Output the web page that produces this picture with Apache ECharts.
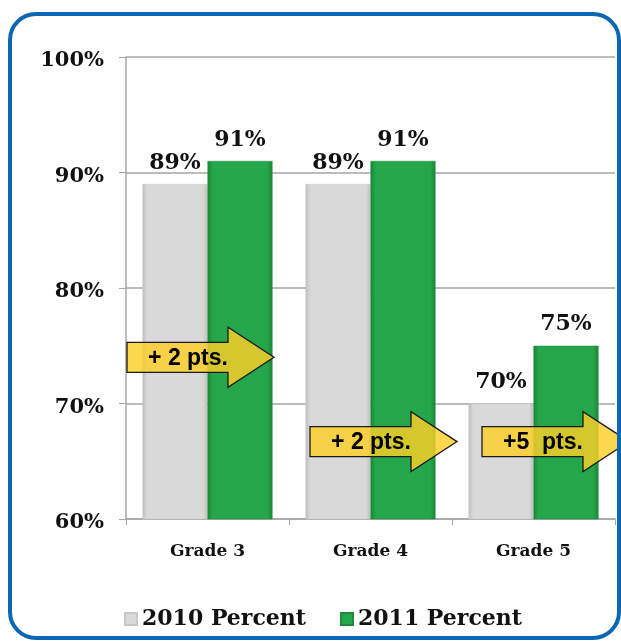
<!DOCTYPE html>
<html>
<head>
<meta charset="utf-8">
<script src="https://cdn.jsdelivr.net/npm/echarts@6/dist/echarts.min.js"></script>
<style>
  html, body { margin: 0; padding: 0; background: #ffffff; }
  #chart { width: 621px; height: 642px; }
</style>
</head>
<body>
<div id="chart"></div>
<script>
// ---- data ----
const categories = ['Grade 3', 'Grade 4', 'Grade 5'];
const seriesNames = ['2010 Percent', '2011 Percent'];
const values2010 = [89, 89, 70];
const values2011 = [91, 91, 75];
const yTicks = [60, 70, 80, 90, 100];
const arrowLabels = ['+ 2 pts.', '+ 2 pts.', '+5  pts.'];
const arrowLevels = [74, 66.7, 66.7];

// ---- layout / style ----
const serif = '"DejaVu Serif", "Liberation Serif", serif';
const arrowLeftOffsets = [-80.5, -60.5, -51.5];

const grayGrad = new echarts.graphic.LinearGradient(0, 0, 1, 0, [
  { offset: 0, color: '#bdbdbd' },
  { offset: 0.07, color: '#d9d9d9' },
  { offset: 0.93, color: '#d9d9d9' },
  { offset: 1, color: '#bcbcbc' }
]);
const greenGrad = new echarts.graphic.LinearGradient(0, 0, 1, 0, [
  { offset: 0, color: '#1a8537' },
  { offset: 0.08, color: '#25a64a' },
  { offset: 0.92, color: '#25a64a' },
  { offset: 1, color: '#1a8537' }
]);

const chart = echarts.init(document.getElementById('chart'), null, { renderer: 'canvas' });

const labelStyle = {
  show: true,
  position: 'top',
  distance: 10,
  formatter: p => p.value + '%',
  fontFamily: serif,
  fontWeight: 'bold',
  fontSize: 22,
  color: '#111'
};

chart.setOption({
  animation: false,
  backgroundColor: '#ffffff',
  grid: { left: 126, right: 6, top: 57, bottom: 123, containLabel: false },
  legend: {
    bottom: 7,
    left: 119,
    itemWidth: 12,
    itemHeight: 12,
    itemGap: 34,
    icon: 'rect',
    textStyle: { fontFamily: serif, fontWeight: 'bold', fontSize: 22, color: '#111' },
    data: seriesNames
  },
  xAxis: {
    type: 'category',
    data: categories,
    axisLine: { show: true, lineStyle: { color: '#a6a6a6', width: 1.5 } },
    axisTick: { show: true, length: 6, lineStyle: { color: '#a6a6a6' } },
    axisLabel: { margin: 24, fontFamily: serif, fontWeight: 'bold', fontSize: 17, color: '#111' }
  },
  yAxis: {
    type: 'value',
    min: yTicks[0],
    max: yTicks[yTicks.length - 1],
    interval: 10,
    axisLine: { show: true, lineStyle: { color: '#a6a6a6', width: 1.5 } },
    axisTick: { show: true, length: 7, lineStyle: { color: '#a6a6a6' } },
    splitLine: { show: true, lineStyle: { color: '#a6a6a6', width: 1.5 } },
    axisLabel: {
      margin: 22,
      formatter: v => v + '%',
      fontFamily: serif, fontWeight: 'bold', fontSize: 21, color: '#111',
      verticalAlign: 'top',
      lineHeight: 8
    }
  },
  series: [
    {
      name: seriesNames[0],
      type: 'bar',
      data: values2010,
      barWidth: 65,
      barGap: '0%',
      itemStyle: { color: grayGrad, borderColor: '#c8c8c8', borderWidth: 0.5 },
      label: labelStyle
    },
    {
      name: seriesNames[1],
      type: 'bar',
      data: values2011,
      barWidth: 65,
      barGap: '0%',
      itemStyle: { color: greenGrad, borderColor: '#1c8a3a', borderWidth: 0.5 },
      label: labelStyle
    }
  ]
});

// ---- annotations: frame + arrows, anchored through the axes ----
function buildGraphics() {
  const els = [];
  els.push({
    type: 'rect',
    shape: { x: 10, y: 14, width: 609, height: 624, r: 26 },
    style: { fill: 'none', stroke: '#0b67b2', lineWidth: 4 },
    z: 100
  });
  const L = 147, bodyH = 15, headH = 30, headL = 46;
  arrowLabels.forEach((txt, i) => {
    const c = chart.convertToPixel({ gridIndex: 0 }, [i, arrowLevels[i]]);
    const x0 = c[0] + arrowLeftOffsets[i];
    const y0 = c[1];
    const hx = x0 + L - headL;
    els.push({
      type: 'polygon',
      shape: {
        points: [
          [x0, y0 - bodyH], [hx, y0 - bodyH], [hx, y0 - headH], [x0 + L, y0],
          [hx, y0 + headH], [hx, y0 + bodyH], [x0, y0 + bodyH]
        ]
      },
      style: { fill: 'rgba(252, 208, 40, 0.82)', stroke: '#1a1a1a', lineWidth: 1.3 },
      z: 50
    });
    els.push({
      type: 'text',
      x: x0 + 61,
      y: y0 + 1,
      style: {
        text: txt,
        fill: '#000',
        font: 'bold 23px "Liberation Sans", Arial, sans-serif',
        align: 'center',
        verticalAlign: 'middle'
      },
      z: 51
    });
  });
  return els;
}
chart.setOption({ graphic: buildGraphics() });
</script>
</body>
</html>
